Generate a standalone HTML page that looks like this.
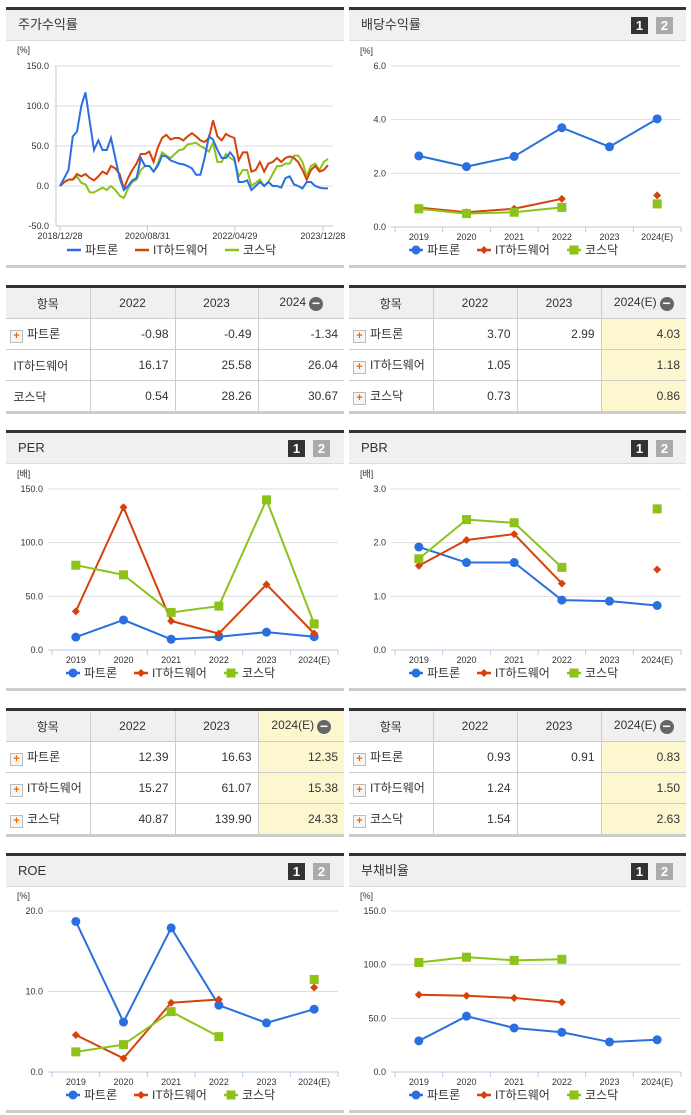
<!DOCTYPE html>
<html><head><meta charset="utf-8">
<style>
body{margin:0;width:691px;height:1115px;position:relative;background:#fff;font-family:"Liberation Sans","Noto Sans CJK KR",sans-serif;overflow:hidden}
.hdr{position:absolute;height:30px;background:#f0f0f0;border-top:3px solid #333;border-bottom:1px solid #ddd;font-size:13px;color:#333;line-height:30px;padding-left:12px;box-sizing:content-box}
.bot{position:absolute;height:3px;background:#ccc}
.b1,.b2{position:absolute;top:7px;width:17px;height:17px;color:#fff;font-weight:bold;font-size:13px;line-height:17px;text-align:center}
.b1{background:#333}.b2{background:#aaa}
table{position:absolute;border-collapse:collapse;table-layout:fixed;font-size:12px;color:#333;border-top:3px solid #333;border-bottom:3px solid #ccc}
td,th{border:1px solid #ccc;height:30px;padding:0 6px;font-weight:normal;white-space:nowrap;overflow:hidden}
th{background:#f0f0f0;text-align:center}
td{text-align:right}
td.n{text-align:left;padding-left:4px}
tr td:first-child,tr th:first-child{border-left:none}
tr td:last-child,tr th:last-child{border-right:none}
.y{background:#fdf7d0}
.pl{display:inline-block;width:11px;height:11px;border:1px solid #bbb;background:#f6f6f6;color:#f36b00;font-size:11px;line-height:10px;text-align:center;font-weight:bold;margin-right:4px;vertical-align:-1px}
.mn{display:inline-block;width:14px;height:14px;border-radius:7px;background:#666;color:#fff;line-height:13px;font-size:14px;font-weight:bold;vertical-align:-2px;margin-left:3px;text-align:center}
svg{position:absolute;left:0;top:0}
</style></head><body>
<div class="hdr" style="left:6px;top:7px;width:326px">주가수익률</div>
<div class="hdr" style="left:349px;top:7px;width:325px">배당수익률<span class="b1" style="left:282px">1</span><span class="b2" style="left:307px">2</span></div>
<div class="hdr" style="left:6px;top:430px;width:326px">PER<span class="b1" style="left:282px">1</span><span class="b2" style="left:307px">2</span></div>
<div class="hdr" style="left:349px;top:430px;width:325px">PBR<span class="b1" style="left:282px">1</span><span class="b2" style="left:307px">2</span></div>
<div class="hdr" style="left:6px;top:853px;width:326px">ROE<span class="b1" style="left:282px">1</span><span class="b2" style="left:307px">2</span></div>
<div class="hdr" style="left:349px;top:853px;width:325px">부채비율<span class="b1" style="left:282px">1</span><span class="b2" style="left:307px">2</span></div>
<div class="bot" style="left:6px;top:265px;width:338px"></div>
<div class="bot" style="left:349px;top:265px;width:337px"></div>
<div class="bot" style="left:6px;top:688px;width:338px"></div>
<div class="bot" style="left:349px;top:688px;width:337px"></div>
<div class="bot" style="left:6px;top:1110px;width:338px"></div>
<div class="bot" style="left:349px;top:1110px;width:337px"></div>

<table style="left:6px;top:285px;width:338px">
<colgroup><col style="width:84px"><col style="width:85px"><col style="width:83px"><col style="width:86px"></colgroup>
<tr><th>항목</th><th>2022</th><th>2023</th><th>2024<span class="mn">−</span></th></tr>
<tr><td class="n"><span class="pl">+</span>파트론</td><td>-0.98</td><td>-0.49</td><td>-1.34</td></tr>
<tr><td class="n">&nbsp;IT하드웨어</td><td>16.17</td><td>25.58</td><td>26.04</td></tr>
<tr><td class="n">&nbsp;코스닥</td><td>0.54</td><td>28.26</td><td>30.67</td></tr></table>

<table style="left:349px;top:285px;width:337px">
<colgroup><col style="width:84px"><col style="width:84px"><col style="width:84px"><col style="width:85px"></colgroup>
<tr><th>항목</th><th>2022</th><th>2023</th><th>2024(E)<span class="mn">−</span></th></tr>
<tr><td class="n"><span class="pl">+</span>파트론</td><td>3.70</td><td>2.99</td><td class="y">4.03</td></tr>
<tr><td class="n"><span class="pl">+</span>IT하드웨어</td><td>1.05</td><td></td><td class="y">1.18</td></tr>
<tr><td class="n"><span class="pl">+</span>코스닥</td><td>0.73</td><td></td><td class="y">0.86</td></tr></table>

<table style="left:6px;top:708px;width:338px">
<colgroup><col style="width:84px"><col style="width:85px"><col style="width:83px"><col style="width:86px"></colgroup>
<tr><th>항목</th><th>2022</th><th>2023</th><th class="y">2024(E)<span class="mn">−</span></th></tr>
<tr><td class="n"><span class="pl">+</span>파트론</td><td>12.39</td><td>16.63</td><td class="y">12.35</td></tr>
<tr><td class="n"><span class="pl">+</span>IT하드웨어</td><td>15.27</td><td>61.07</td><td class="y">15.38</td></tr>
<tr><td class="n"><span class="pl">+</span>코스닥</td><td>40.87</td><td>139.90</td><td class="y">24.33</td></tr></table>

<table style="left:349px;top:708px;width:337px">
<colgroup><col style="width:84px"><col style="width:84px"><col style="width:84px"><col style="width:85px"></colgroup>
<tr><th>항목</th><th>2022</th><th>2023</th><th>2024(E)<span class="mn">−</span></th></tr>
<tr><td class="n"><span class="pl">+</span>파트론</td><td>0.93</td><td>0.91</td><td class="y">0.83</td></tr>
<tr><td class="n"><span class="pl">+</span>IT하드웨어</td><td>1.24</td><td></td><td class="y">1.50</td></tr>
<tr><td class="n"><span class="pl">+</span>코스닥</td><td>1.54</td><td></td><td class="y">2.63</td></tr></table>

<svg id="c" width="691" height="1115"></svg>
<script>
const years=["2019","2020","2021","2022","2023","2024(E)"];
const divPatron=[2.65,2.25,2.63,3.70,2.99,4.03];
const divIT=[0.72,0.55,0.68,1.05,null,1.18];
const divKosdaq=[0.68,0.50,0.55,0.73,null,0.86];
const perPatron=[12,28,10,12.39,16.63,12.35];
const perIT=[36,133,27,15.27,61.07,15.38];
const perKosdaq=[79,70,35,40.87,139.9,24.33];
const pbrPatron=[1.92,1.63,1.63,0.93,0.91,0.83];
const pbrIT=[1.57,2.05,2.16,1.24,null,1.50];
const pbrKosdaq=[1.70,2.43,2.37,1.54,null,2.63];
const roePatron=[18.7,6.2,17.9,8.3,6.1,7.8];
const roeIT=[4.6,1.7,8.6,9.0,null,10.5];
const roeKosdaq=[2.5,3.4,7.5,4.4,null,11.5];
const debtPatron=[29,52,41,37,28,30];
const debtIT=[72,71,69,65,null,null];
const debtKosdaq=[102,107,104,105,null,null];
const retPatron=[0,10,20,62,68,100,117,80,45,57,45,45,60,35,10,-5,0,7,10,35,25,25,18,25,38,37,32,30,28,27,25,22,14,14,35,62,58,45,35,35,42,35,5,5,7,-5,0,5,0,5,0,0,-2,10,12,2,0,-3,5,5,0,-2,-3,-3];
const retIT=[0,5,8,8,15,12,15,10,7,12,18,15,25,22,15,-3,10,20,28,40,40,43,30,48,60,64,58,60,60,57,62,66,62,57,55,60,82,62,57,65,62,60,32,42,42,18,20,30,18,28,30,35,30,35,37,35,30,20,8,20,25,18,20,26];
const retKosdaq=[0,5,8,8,12,4,2,-8,-8,-5,-2,-5,0,-5,-12,-15,-3,5,8,20,25,25,18,28,42,38,35,40,45,46,52,53,54,50,47,43,54,30,30,40,35,32,12,20,20,0,4,8,0,5,15,25,25,28,28,38,38,30,12,25,28,20,30,34];
const retDates=["2018/12/28","2020/08/31","2022/04/29","2023/12/28"];
const names=["파트론","IT하드웨어","코스닥"];
const colors=["#2a6fe0","#d6410c","#8cc21a"];

const svg=document.getElementById('c');
const NS="http://www.w3.org/2000/svg";
function mk(tag,attrs,parent,name){const e=document.createElementNS(NS,tag);for(const k in attrs)e.setAttribute(k,attrs[k]);


(parent||svg).appendChild(e);return e;}
function txt(x,y,s,size,anchor,parent,name,fill){const t=mk('text',{x:x,y:y,'font-size':size,'text-anchor':anchor,fill:fill||'#333','font-family':'Liberation Sans, Noto Sans CJK KR, sans-serif'},parent,name);t.textContent=s;return t;}
function marker(kind,x,y,g){
 if(kind===0)mk('circle',{cx:x,cy:y,r:4.5,fill:colors[0]},g,'point-marker');
 else if(kind===1)mk('path',{d:`M${x} ${y-4}L${x+4} ${y}L${x} ${y+4}L${x-4} ${y}Z`,fill:colors[1]},g,'point-marker');
 else mk('rect',{x:x-4.5,y:y-4.5,width:9,height:9,fill:colors[2]},g,'point-marker');
}
let panelMarkers=true;
function legend(cx,y){
 const g=mk('g',{},null,'legend');
 const w=[58,80,58];let x=cx-(w[0]+w[1]+w[2]+20)/2;
 for(let i=0;i<3;i++){mk('line',{x1:x,y1:y-4,x2:x+14,y2:y-4,stroke:colors[i],'stroke-width':2.5},g,'legend-line');
  if(panelMarkers)marker(i,x+7,y-4,g);
  txt(x+18,y,names[i],12,'start',g,'legend-entry');x+=w[i]+10;}
}
function yearChart(left,top,max,step,dec,unit,series){
 const L=left+46,R=left+332,Y0=top+218,Y1=top+57;
 const g=mk('g',{},null,'year-chart');
 const ys=v=>Y0-(v/max)*(Y0-Y1);
 const bw=(R-L)/years.length;const xs=i=>L+bw*(i+0.5);
 txt(left+11,top+45,unit,9,'start',g,'y-unit-label');
 for(let v=0;v<=max+1e-9;v+=step){
  if(v>0)mk('line',{x1:L-4,y1:ys(v),x2:R,y2:ys(v),stroke:'#ddd'},g,'gridline');
  txt(L-9,ys(v)+3,v.toFixed(1),9,'end',g,'y-tick-label');
 }
 mk('line',{x1:L-4,y1:Y0,x2:R,y2:Y0,stroke:'#b8c8dc'},g,'x-axis');
 for(let i=0;i<=years.length;i++)mk('line',{x1:L+bw*i,y1:Y0,x2:L+bw*i,y2:Y0+5,stroke:'#b8c8dc'},g,'x-tick');
 years.forEach((yr,i)=>txt(xs(i),Y0+13,yr,9,'middle',g,'x-tick-label'));
 series.forEach((arr,s)=>{
  for(let i=0;i<arr.length-1;i++)if(arr[i]!=null&&arr[i+1]!=null)
   mk('line',{x1:xs(i),y1:ys(arr[i]),x2:xs(i+1),y2:ys(arr[i+1]),stroke:colors[s],'stroke-width':2},g,'series-line');
  arr.forEach((v,i)=>{if(v!=null)marker(s,xs(i),ys(v),g);});
 });
 legend(left+168,top+245);
}
yearChart(349,9,6,2,1,'[%]',[divPatron,divIT,divKosdaq]);
yearChart(6,432,150,50,1,'[배]',[perPatron,perIT,perKosdaq]);
yearChart(349,432,3,1,1,'[배]',[pbrPatron,pbrIT,pbrKosdaq]);
yearChart(6,854,20,10,1,'[%]',[roePatron,roeIT,roeKosdaq]);
yearChart(349,854,150,50,1,'[%]',[debtPatron,debtIT,debtKosdaq]);

(function(){
 const g=mk('g',{},null,'stock-return-chart');
 const L=58,R=333,Y1=66,Y0=226,min=-50,max=150;
 const ys=v=>Y0-(v-min)/(max-min)*(Y0-Y1);
 txt(17,53,'[%]',9,'start',g,'y-unit-label');
 for(let v=min;v<=max;v+=50){
  if(v>min)mk('line',{x1:L-4,y1:ys(v),x2:R,y2:ys(v),stroke:'#ddd'},g,'gridline');
  txt(L-9,ys(v)+3,v.toFixed(1),9,'end',g,'y-tick-label');
 }
 mk('line',{x1:L-2,y1:Y0,x2:R,y2:Y0,stroke:'#b8c8dc'},g,'x-axis');
 mk('line',{x1:L-2,y1:Y1,x2:L-2,y2:Y0,stroke:'#b8c8dc'},g,'y-axis');
 const dx=[0,1/3.1,2/3.1,0.97];
 retDates.forEach((d,i)=>{const x=L+2+(R-L-4)*dx[i];mk('line',{x1:x,y1:Y0,x2:x,y2:Y0+5,stroke:'#b8c8dc'},g,'x-tick');txt(x,Y0+13,d,9,'middle',g,'x-tick-label');});
 [retKosdaq,retIT,retPatron].forEach((arr,k)=>{const s=2-k;
  const pts=arr.map((v,i)=>(L+2+(R-L-7)*i/(arr.length-1)).toFixed(1)+','+ys(v).toFixed(1)).join(' ');
  mk('polyline',{points:pts,fill:'none',stroke:colors[s],'stroke-width':2},g,'series-line');});
 panelMarkers=false;legend(175,254);panelMarkers=true;
})();
</script>
</body></html>
